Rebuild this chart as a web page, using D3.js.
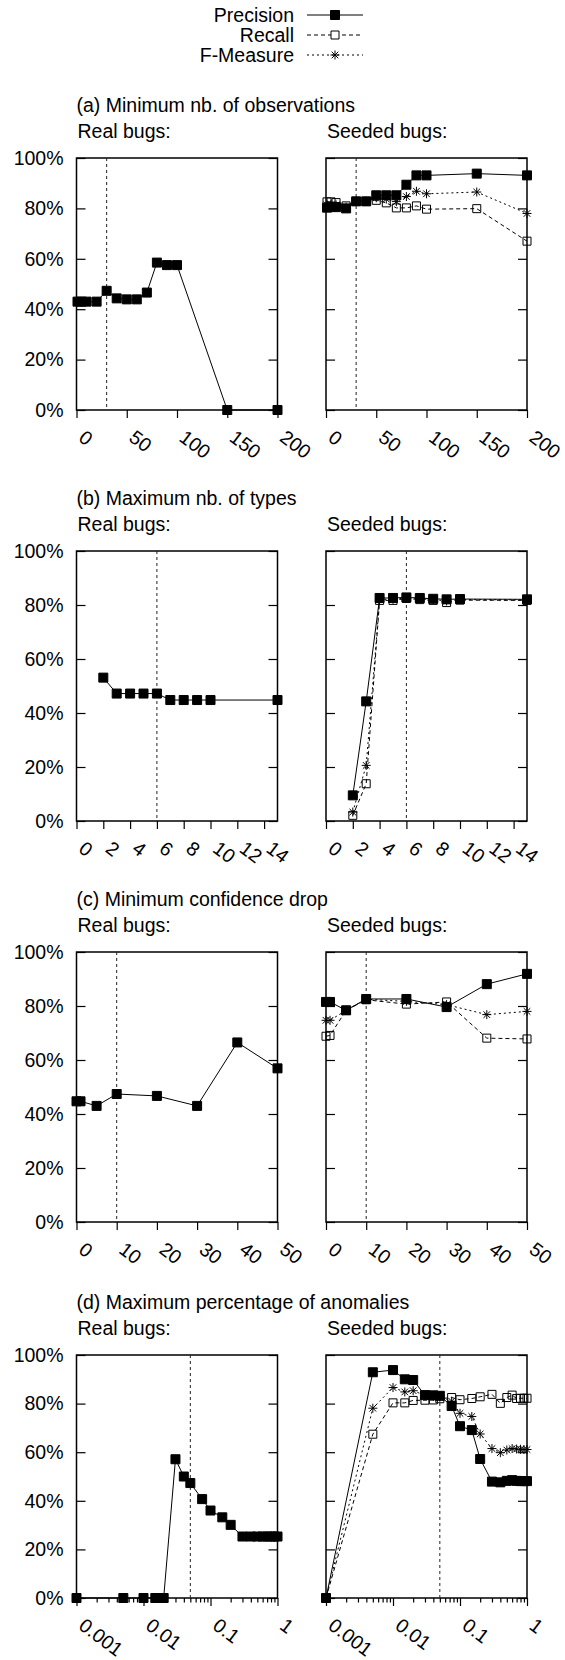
<!DOCTYPE html>
<html>
<head>
<meta charset="utf-8">
<script src="https://cdn.jsdelivr.net/npm/d3@7"></script>
<style>
  body { margin: 0; background: #fff; }
  svg { display: block; font-family: "Liberation Sans", Arial, Helvetica, sans-serif; }
</style>
</head>
<body>
<div id="chart"></div>
<script>
// ---- data ----
const seriesNames = ['Precision', 'Recall', 'F-Measure'];
const yTicks = [0, 20, 40, 60, 80, 100];

// (a) minimum nb. of observations
const obsTicks = [0, 50, 100, 150, 200];
const obsX = [1, 5, 10, 20, 30, 40, 50, 60, 70, 80, 90, 100, 150, 200];
const obsRealPrecision = [43, 43, 43, 43, 47.3, 44.3, 43.9, 43.9, 46.6, 58.5, 57.5, 57.5, 0, 0];
const obsSeededPrecision = [80.3, 80.6, 80.5, 80, 82.8, 82.8, 85.2, 85.2, 85.2, 89.4, 93.1, 93.1, 93.8, 93.1];
const obsSeededRecall = [82.6, 82.6, 82.3, 81, 82.8, 82.8, 83.2, 82.2, 80.2, 80.2, 81, 79.7, 79.9, 67];
const obsSeededFMeasure = [81.4, 81.5, 81.4, 80.5, 82.8, 82.8, 84.2, 83.7, 82.7, 84.7, 86.8, 85.8, 86.5, 78];

// (b) maximum nb. of types
const typesTicks = [0, 2, 4, 6, 8, 10, 12, 14];
const typesX = [2, 3, 4, 5, 6, 7, 8, 9, 10, 15];
const typesRealPrecision = [53.1, 47.2, 47.2, 47.2, 47.2, 44.8, 44.8, 44.8, 44.8, 44.8];
const typesSeededPrecision = [9.5, 44.3, 82.6, 82.6, 82.8, 82.6, 82.3, 82.1, 82.2, 82.1];
const typesSeededRecall = [2.1, 13.8, 81.7, 81.7, 82.4, 82, 81.7, 80.9, 81.8, 81.7];
const typesSeededFMeasure = [3.3, 20.6, 82.1, 82.1, 82.6, 82.3, 82, 81.5, 82, 81.9];

// (c) minimum confidence drop
const dropTicks = [0, 10, 20, 30, 40, 50];
const dropX = [0, 1, 5, 10, 20, 30, 40, 50];
const dropRealPrecision = [44.7, 44.7, 43, 47.4, 46.7, 43, 66.5, 56.9];
const dropSeededPrecision = [81.5, 81.5, 78.4, 82.6, 82.6, 79.6, 88.1, 91.9];
const dropSeededRecall = [68.8, 69.1, 78.4, 82.3, 80.7, 81.5, 68.1, 67.8];
const dropSeededFMeasure = [74.7, 74.7, 78.4, 82.5, 81.7, 80.5, 76.8, 78];

// (d) maximum percentage of anomalies
const anomTicks = [0.001, 0.01, 0.1, 1];
const anomTickLabels = ['0.001', '0.01', '0.1', '1'];
const anomX = [0.001, 0.005, 0.01, 0.015, 0.02, 0.03, 0.04, 0.05, 0.075, 0.1, 0.15, 0.2, 0.3, 0.4, 0.5, 0.6, 0.7, 0.8, 0.9, 1];
const anomRealPrecision = [0, 0, 0, 0, 0, 57.1, 50, 47.3, 40.7, 36, 33.2, 30.1, 25.3, 25.3, 25.3, 25.3, 25.3, 25.3, 25.3, 25.3];
const anomSeededPrecision = [0, 92.9, 93.8, 90, 89.7, 83.5, 83.4, 83.2, 79, 70.7, 69.1, 57.2, 47.9, 47.6, 48.2, 48.5, 48.2, 48.1, 48.1, 48.1];
const anomSeededRecall = [0, 67.4, 80.3, 80.3, 81.3, 81.4, 81.5, 82, 82.5, 81.6, 82.1, 82.8, 83.8, 80.1, 82.5, 83.5, 82.1, 82.2, 82.2, 82.2];
const anomSeededFMeasure = [0, 78.1, 86.6, 84.8, 85.3, 83.4, 83, 82.6, 81, 76, 74.7, 67.5, 61.5, 59.8, 60.9, 61.5, 61.3, 61.2, 61.1, 61.1];

// ---- layout ----
const W = 565, H = 1660;
const FONT = 19.5;
const columns = [
  {left: 76.5, right: 277.5, sub: 'Real bugs:', labels: true},
  {left: 326, right: 527, sub: 'Seeded bugs:', labels: false}
];

const panels = [
  {title: '(a) Minimum nb. of observations', top: 158, bottom: 410, log: false, domain: [0, 200],
   ticks: obsTicks, tickLabels: obsTicks.map(String), threshold: 30,
   real: {x: obsX, precision: obsRealPrecision},
   seeded: {x: obsX, precision: obsSeededPrecision, recall: obsSeededRecall, fmeasure: obsSeededFMeasure}},
  {title: '(b) Maximum nb. of types', top: 551, bottom: 821, log: false, domain: [0, 15],
   ticks: typesTicks, tickLabels: typesTicks.map(String), threshold: 6,
   real: {x: typesX, precision: typesRealPrecision},
   seeded: {x: typesX, precision: typesSeededPrecision, recall: typesSeededRecall, fmeasure: typesSeededFMeasure}},
  {title: '(c) Minimum confidence drop', top: 952, bottom: 1222, log: false, domain: [0, 50],
   ticks: dropTicks, tickLabels: dropTicks.map(String), threshold: 10,
   real: {x: dropX, precision: dropRealPrecision},
   seeded: {x: dropX, precision: dropSeededPrecision, recall: dropSeededRecall, fmeasure: dropSeededFMeasure}},
  {title: '(d) Maximum percentage of anomalies', top: 1355, bottom: 1598, log: true, domain: [0.001, 1],
   ticks: anomTicks, tickLabels: anomTickLabels, threshold: 0.05,
   real: {x: anomX, precision: anomRealPrecision},
   seeded: {x: anomX, precision: anomSeededPrecision, recall: anomSeededRecall, fmeasure: anomSeededFMeasure}}
];

const styles = {
  precision: {dash: null, marker: 'M-4.5,-4.5h9v9h-9z', fill: '#000'},
  recall: {dash: '4,3', marker: 'M-4,-4h8v8h-8z', fill: 'none'},
  fmeasure: {dash: '2,3', marker: 'M-4.5,0H4.5M0,-4.5V4.5M-3.3,-3.3L3.3,3.3M-3.3,3.3L3.3,-3.3', fill: 'none'}
};
const seriesKeys = ['precision', 'recall', 'fmeasure'];

const svg = d3.select('#chart').append('svg')
  .attr('width', W).attr('height', H);
svg.append('rect').attr('width', W).attr('height', H).attr('fill', '#fff');

function drawMarkers(g, pts, key, x, y){
  g.selectAll('.m-' + key)
    .data(pts)
    .join('path')
      .attr('class', 'm-' + key)
      .attr('d', styles[key].marker)
      .attr('transform', d => `translate(${x(d.x)},${y(d.y)})`)
      .attr('fill', styles[key].fill)
      .attr('stroke', '#000')
      .attr('stroke-width', 1);
}

function drawPlot(panel, col, data){
  const g = svg.append('g');
  const x = (panel.log ? d3.scaleLog() : d3.scaleLinear())
    .domain(panel.domain).range([col.left, col.right]);
  const y = d3.scaleLinear().domain([0, 100]).range([panel.bottom, panel.top]);

  // y ticks, inward on both sides
  const yl = g.append('g').attr('transform', `translate(${col.left},0)`)
    .call(d3.axisLeft(y).tickValues(yTicks).tickSize(-9).tickPadding(13)
      .tickFormat(d => col.labels ? d + '%' : ''));
  const yr = g.append('g').attr('transform', `translate(${col.right},0)`)
    .call(d3.axisRight(y).tickValues(yTicks).tickSize(-9).tickFormat(''));

  // x ticks, outward
  const xa = g.append('g').attr('transform', `translate(0,${panel.bottom})`)
    .call(d3.axisBottom(x).tickValues(panel.ticks).tickSize(8)
      .tickFormat((d, i) => panel.tickLabels[i]));
  if(panel.log){
    const minor = x.ticks().filter(v => panel.ticks.indexOf(v) < 0);
    g.append('g').attr('transform', `translate(0,${panel.bottom})`)
      .call(d3.axisBottom(x).tickValues(minor).tickSize(4.5).tickFormat(''))
      .call(a => a.select('.domain').remove());
  }
  xa.selectAll('text')
    .attr('x', 0).attr('y', 0).attr('dy', 0)
    .attr('text-anchor', 'start')
    .attr('transform', 'translate(0.5,30) rotate(37)');

  [yl, yr, xa].forEach(a => {
    a.select('.domain').remove();
    a.attr('font-size', FONT).attr('font-family', null);
    a.selectAll('text').attr('fill', '#000');
  });
  g.selectAll('.tick line').attr('stroke', '#000').attr('stroke-width', 1.2);

  // frame
  g.append('rect')
    .attr('x', col.left).attr('y', panel.top)
    .attr('width', col.right - col.left).attr('height', panel.bottom - panel.top)
    .attr('fill', 'none').attr('stroke', '#000').attr('stroke-width', 1.5);

  // chosen threshold
  g.append('line')
    .attr('x1', x(panel.threshold)).attr('x2', x(panel.threshold))
    .attr('y1', panel.top).attr('y2', panel.bottom)
    .attr('stroke', '#222').attr('stroke-width', 1).attr('stroke-dasharray', '3,3');

  const line = d3.line().x(d => x(d.x)).y(d => y(d.y));
  seriesKeys.forEach(key => {
    if(!data[key]) return;
    const pts = data.x.map((v, i) => ({x: v, y: data[key][i]}));
    g.append('path').datum(pts)
      .attr('d', line)
      .attr('fill', 'none').attr('stroke', '#000').attr('stroke-width', 1)
      .attr('stroke-dasharray', styles[key].dash);
    drawMarkers(g, pts, key, x, y);
  });

  g.append('text')
    .attr('x', col.left + 1).attr('y', panel.top - 20)
    .attr('font-size', FONT).text(col.sub);
}

panels.forEach(p => {
  svg.append('text')
    .attr('x', columns[0].left).attr('y', p.top - 46)
    .attr('font-size', FONT).text(p.title);
  drawPlot(p, columns[0], p.real);
  drawPlot(p, columns[1], p.seeded);
});

// legend
const legend = svg.append('g');
const legendRows = legend.selectAll('g')
  .data(seriesKeys)
  .join('g')
    .attr('transform', (d, i) => `translate(0,${15 + i * 20})`);
legendRows.append('text')
  .attr('x', 294).attr('dy', '0.35em')
  .attr('text-anchor', 'end').attr('font-size', FONT)
  .text((d, i) => seriesNames[i]);
legendRows.append('line')
  .attr('x1', 307).attr('x2', 363)
  .attr('stroke', '#000').attr('stroke-width', 1)
  .attr('stroke-dasharray', d => styles[d].dash);
legendRows.append('path')
  .attr('transform', 'translate(335,0)')
  .attr('d', d => styles[d].marker)
  .attr('fill', d => styles[d].fill === 'none' ? '#fff' : '#000')
  .attr('stroke', '#000');
</script>
</body>
</html>
